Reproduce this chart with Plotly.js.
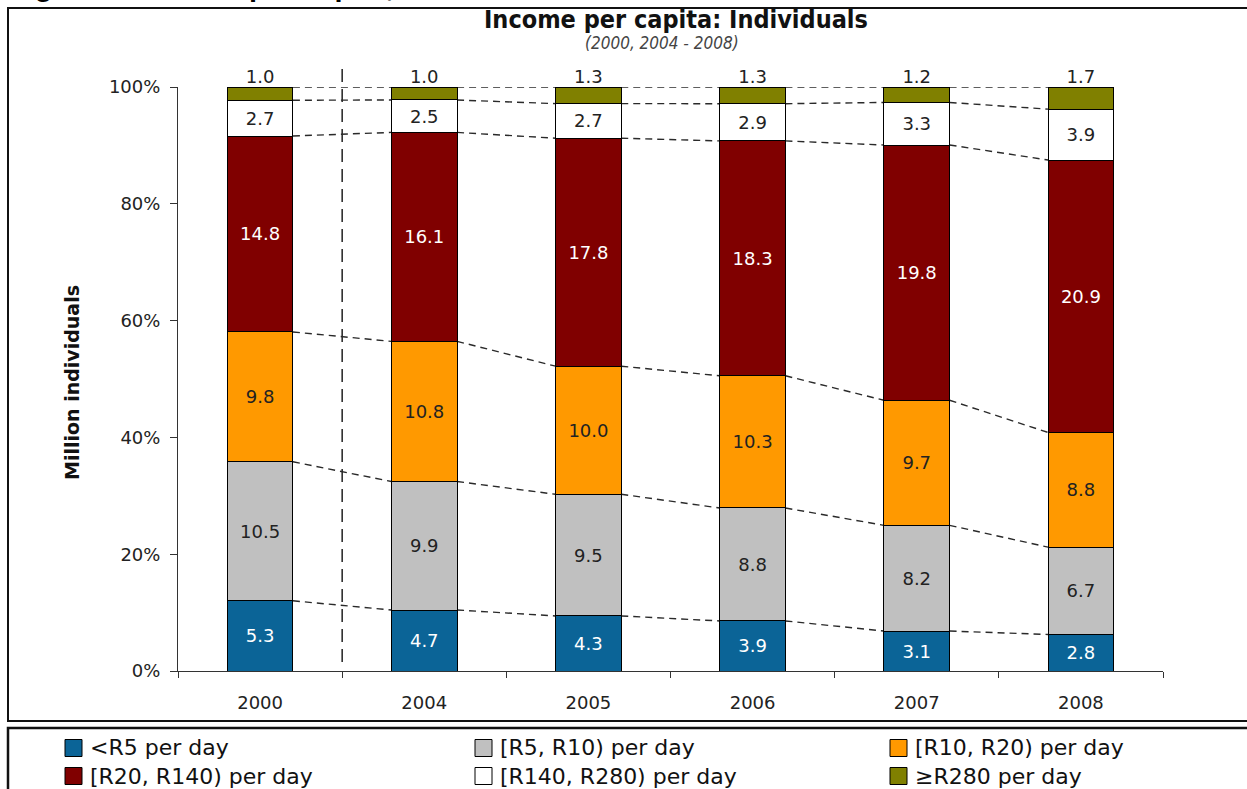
<!DOCTYPE html>
<html>
<head>
<meta charset="utf-8">
<script src="https://cdn.plot.ly/plotly-3.0.1.min.js"></script>
<style>
  html, body { margin: 0; padding: 0; background: #fff; }
  #chart { width: 1247px; height: 789px; }
</style>
</head>
<body>
<div id="chart"></div>
<script>
// Income per capita: individuals by daily income band (million individuals)
const years = ['2000', '2004', '2005', '2006', '2007', '2008'];
const seriesNames = ['<R5 per day', '[R5, R10) per day', '[R10, R20) per day',
                     '[R20, R140) per day', '[R140, R280) per day', '\u2265R280 per day'];
const below5     = [5.3, 4.7, 4.3, 3.9, 3.1, 2.8];
const r5to10     = [10.5, 9.9, 9.5, 8.8, 8.2, 6.7];
const r10to20    = [9.8, 10.8, 10.0, 10.3, 9.7, 8.8];
const r20to140   = [14.8, 16.1, 17.8, 18.3, 19.8, 20.9];
const r140to280  = [2.7, 2.5, 2.7, 2.9, 3.3, 3.9];
const above280   = [1.0, 1.0, 1.3, 1.3, 1.2, 1.7];
const yTicks      = [0, 20, 40, 60, 80, 100];
const yTickLabels = ['0%', '20%', '40%', '60%', '80%', '100%'];

const series = [below5, r5to10, r10to20, r20to140, r140to280, above280];
const fills = ['#0b6497', '#c0c0c0', '#ff9900', '#800000', '#ffffff', '#808000'];
const labelColors = ['#ffffff', '#222222', '#222222', '#ffffff', '#222222', '#222222'];

// page geometry
const W = 1247, H = 789;
const mL = 178, mR = 84, mT = 87, mB = 118;
const plotW = W - mL - mR, plotH = H - mT - mB;
const px = x => (x - mL) / plotW;
const py = y => (H - mB - y) / plotH;

const barWidth = 0.4;
const FONT = 'DejaVu Sans, Verdana, sans-serif';
const last = series.length - 1;

const traces = series.map((vals, k) => ({
  type: 'bar',
  x: years,
  y: vals,
  name: seriesNames[k],
  width: barWidth,
  marker: { color: fills[k], line: { color: '#000', width: 1 } },
  text: vals.map(v => v.toFixed(1)),
  texttemplate: '%{text}',
  textposition: k === last ? 'none' : 'inside',
  insidetextanchor: 'middle',
  textangle: 0,
  constraintext: 'none',
  insidetextfont: { family: FONT, size: 18, color: labelColors[k] },
  cliponaxis: false,
  hoverinfo: 'skip',
  showlegend: false
}));

// values of the top band, written just above each (100 %) bar
traces.push({
  type: 'scatter', mode: 'text',
  x: years, y: years.map(() => 100),
  text: above280.map(v => v.toFixed(1)),
  textposition: 'top center',
  textfont: { family: FONT, size: 18, color: '#222' },
  cliponaxis: false, hoverinfo: 'skip', showlegend: false
});

// dashed series lines joining the segment boundaries of neighbouring bars
const totals = years.map((_, i) => series.reduce((s, arr) => s + arr[i], 0));
const shapes = [];
series.forEach((_, k) => {
  const cum = years.map((_, i) => {
    let s = 0;
    for (let j = 0; j <= k; j++) s += series[j][i];
    return s / totals[i] * 100;
  });
  for (let i = 0; i < years.length - 1; i++) {
    shapes.push({
      type: 'line', xref: 'x', yref: 'y', layer: 'below',
      x0: i + barWidth / 2, y0: cum[i], x1: i + 1 - barWidth / 2, y1: cum[i + 1],
      line: { color: '#2a2a2a', width: 1.4, dash: '7px,5px' }
    });
  }
});

// separator between 2000 and the 2004-2008 run
shapes.push({
  type: 'line', xref: 'x', yref: 'paper', layer: 'below',
  x0: 0.5, x1: 0.5, y0: py(662), y1: py(63),
  line: { color: '#222', width: 1.5, dash: '13px,7px' }
});

// chart frame and legend frame
shapes.push({
  type: 'rect', xref: 'paper', yref: 'paper',
  x0: px(8), x1: px(1252), y0: py(721), y1: py(8),
  line: { color: '#111', width: 2 }, fillcolor: 'rgba(0,0,0,0)'
});
shapes.push({
  type: 'rect', xref: 'paper', yref: 'paper',
  x0: px(8), x1: px(1252), y0: py(800), y1: py(728),
  line: { color: '#111', width: 2.5 }, fillcolor: 'rgba(0,0,0,0)'
});

const annotations = [
  {
    text: 'Figure 2: Income per capita, 2000\u20132008',
    xref: 'paper', yref: 'paper', x: px(7), y: py(4),
    xanchor: 'left', yanchor: 'bottom', showarrow: false,
    font: { family: 'Liberation Sans, Arial, sans-serif', size: 29, color: '#000', weight: 'bold' }
  },
  {
    text: '<b>Income per capita: Individuals</b>',
    xref: 'paper', yref: 'paper', x: px(676), y: py(20),
    xanchor: 'center', yanchor: 'middle', showarrow: false,
    font: { family: 'DejaVu Sans Condensed, DejaVu Sans, sans-serif', size: 25, color: '#111' }
  },
  {
    text: '<i>(2000, 2004 - 2008)</i>',
    xref: 'paper', yref: 'paper', x: px(662), y: py(43),
    xanchor: 'center', yanchor: 'middle', showarrow: false,
    font: { family: 'DejaVu Sans Condensed, DejaVu Sans, sans-serif', size: 17, color: '#444' }
  },
  {
    text: '<b>Million individuals</b>',
    xref: 'paper', yref: 'paper', x: px(72), y: py(383),
    xanchor: 'center', yanchor: 'middle', textangle: -90, showarrow: false,
    font: { family: FONT, size: 19, color: '#111' }
  }
];

// legend: three columns, two rows (one text block per column)
const legCols = [65, 475, 890];
const legRows = [748, 776];
const sw = 17;
seriesNames.forEach((name, k) => {
  const cx = legCols[k % 3];
  const cy = legRows[Math.floor(k / 3)];
  shapes.push({
    type: 'rect', xref: 'paper', yref: 'paper',
    x0: px(cx), x1: px(cx + sw), y0: py(cy + sw / 2), y1: py(cy - sw / 2),
    fillcolor: fills[k], line: { color: '#000', width: 1 }
  });
});
legCols.forEach((cx, c) => {
  const lines = [seriesNames[c], seriesNames[c + 3]].map(s => s.replace('<', '&lt;'));
  annotations.push({
    text: lines.join('<br>'),
    xref: 'paper', yref: 'paper', x: px(cx + sw + 6), y: py((legRows[0] + legRows[1]) / 2),
    xanchor: 'left', yanchor: 'middle', align: 'left', showarrow: false,
    font: { family: FONT, size: 22, color: '#111' }
  });
});

const layout = {
  width: W, height: H,
  margin: { l: mL, r: mR, t: mT, b: mB, pad: 0 },
  paper_bgcolor: '#fff', plot_bgcolor: '#fff',
  barmode: 'stack',
  barnorm: 'percent',
  showlegend: false,
  font: { family: FONT, size: 18, color: '#222' },
  xaxis: {
    type: 'category',
    range: [-0.5, years.length - 0.5],
    tickson: 'boundaries',
    ticks: 'outside', ticklen: 6, tickwidth: 1, tickcolor: '#333',
    ticklabelstandoff: 15,
    showline: true, linecolor: '#333', linewidth: 1,
    showgrid: false, zeroline: false,
    tickfont: { family: FONT, size: 18, color: '#222' },
    fixedrange: true
  },
  yaxis: {
    range: [0, 100],
    tickmode: 'array',
    tickvals: yTicks,
    ticktext: yTickLabels,
    ticks: 'outside', ticklen: 7, tickwidth: 1, tickcolor: '#333',
    ticklabelstandoff: 6,
    showline: true, linecolor: '#333', linewidth: 1,
    showgrid: false, zeroline: false,
    tickfont: { family: FONT, size: 18, color: '#222' },
    fixedrange: true
  },
  shapes: shapes,
  annotations: annotations
};

Plotly.newPlot('chart', traces, layout, { displayModeBar: false, staticPlot: true });
</script>
</body>
</html>
